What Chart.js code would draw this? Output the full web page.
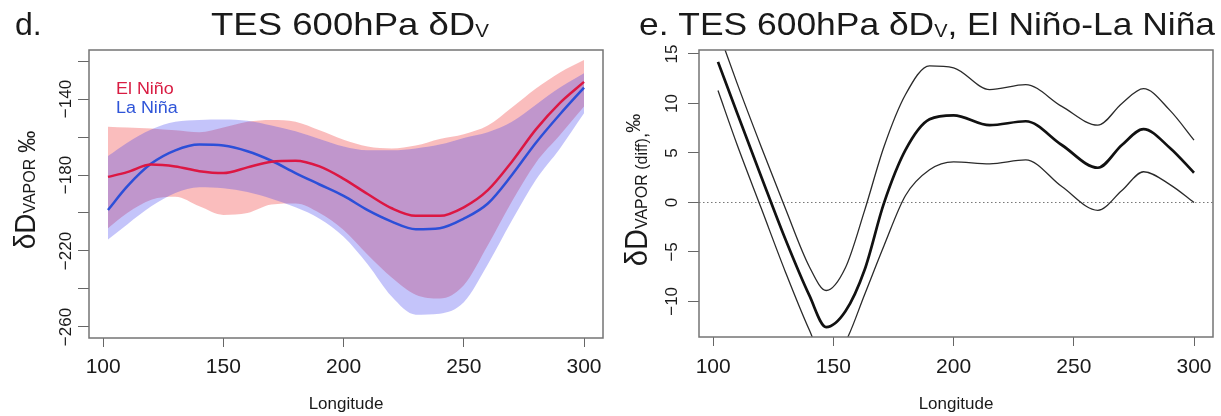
<!DOCTYPE html>
<html><head><meta charset="utf-8">
<script src="https://cdn.jsdelivr.net/npm/chart.js@4.4.1/dist/chart.umd.min.js"></script>
<style>
html,body{margin:0;padding:0;background:#fff;}
#wrap{position:relative;width:1221px;height:416px;overflow:hidden;background:#fff;}
canvas{position:absolute;top:0;}
#c1{left:0;} #c2{left:610px;}
</style></head><body>
<div id="wrap"><canvas id="c1" width="610" height="416"></canvas><canvas id="c2" width="611" height="416"></canvas></div>
<script>
// ---------- data ----------
const xTickValues = [100, 150, 200, 250, 300];

// panel d: TES 600hPa dDv composites
const lonLeft      = [102, 110, 120, 130, 140, 150, 160, 170, 180, 190, 200, 210, 220, 230, 240, 250, 260, 270, 280, 290, 300];
const elNinoMean   = [-181, -178.5, -174.5, -175.5, -178, -179, -176, -173, -172.5, -175.5, -182, -190, -197.5, -201.5, -201.5, -197, -188, -173, -156, -142, -131];
const elNinoUpper  = [-154.6, -155, -155.5, -156.5, -157.5, -155, -152, -151, -152, -156.5, -161.5, -165, -166, -164.5, -161, -158.5, -154, -144.5, -134.5, -126, -119.5];
const elNinoLower  = [-208, -200, -193, -191.5, -196.5, -201, -200, -195.5, -195, -200, -209, -222, -234, -243, -245, -238, -217, -194, -173.5, -159, -144];
const laNinaMean   = [-198.4, -186, -174, -167, -164, -164.5, -167.5, -172.5, -179, -185, -191, -198.5, -204.5, -208.5, -208, -203, -195, -180, -163, -148, -134];
const laNinaUpper  = [-170, -163, -156, -152, -151, -150.8, -151.5, -154, -157, -161, -165, -167, -167, -166, -164, -160.5, -157.5, -152, -143, -134, -126.5];
const laNinaLower  = [-214, -206, -196.5, -189.5, -186.5, -187, -189, -192.5, -197, -203, -212.5, -227, -244, -253.5, -253, -247, -227, -204, -182.5, -166, -147.5];
const leftYTicks   = [-260, -240, -220, -200, -180, -160, -140, -120];
const leftYLabels  = ['\u2212260', '', '\u2212220', '', '\u2212180', '', '\u2212140', ''];

// panel e: El Nino - La Nina difference
const lonRight     = [102, 110, 120, 130, 140, 147, 155, 163, 171, 180, 190, 200, 215, 230, 245, 260, 270, 279, 290, 300];
const diffMean     = [14.2, 9.0, 2.6, -3.7, -9.4, -12.6, -11.0, -6.8, -0.1, 5.3, 8.4, 8.8, 7.8, 8.2, 5.8, 3.5, 5.8, 7.4, 5.5, 3.0];
const diffUpper    = [17.4, 12.0, 5.6, -0.6, -6.5, -8.9, -6.6, -0.8, 5.6, 10.9, 13.8, 13.6, 11.4, 11.9, 9.7, 7.8, 10.0, 11.5, 9.3, 6.3];
const diffLower    = [11.3, 5.8, -0.6, -7.0, -12.9, -16.3, -14.1, -9.3, -4.4, 0.7, 3.3, 4.1, 3.9, 4.3, 1.6, -0.8, 1.2, 3.1, 1.8, 0.0];
const rightYTicks  = [-10, -5, 0, 5, 10, 15];
const rightYLabels = ['\u221210', '\u22125', '0', '5', '10', '15'];

// axis limits
const X_MIN = 94.1, X_MAX = 307.9;
const LEFT_Y_MIN = -265.8, LEFT_Y_MAX = -114.2;
const RIGHT_Y_MIN = -13.6, RIGHT_Y_MAX = 15.4;

// ---------- styles ----------
const FONT = "'Liberation Sans', Arial, Helvetica, sans-serif";
const TEXT = '#1a1a1a';
const AXIS_GRAY = '#666666';
const BOX_GRAY = '#747474';
const RED_LINE = '#dc1743';
const BLUE_LINE = '#2c4fd8';
const PINK_FILL = 'rgba(240,50,50,0.32)';
const BLUE_FILL = 'rgba(60,60,240,0.30)';

const pts = (xs, ys) => xs.map((x, i) => ({ x: x, y: ys[i] }));

function rich(ctx, segs, x, y, o) {
  ctx.save();
  ctx.translate(x, y);
  ctx.scale(o.sx || 1, 1);
  if (o.rot) ctx.rotate(o.rot);
  ctx.textBaseline = o.baseline || 'alphabetic';
  ctx.textAlign = 'left';
  let w = 0;
  segs.forEach(s => { ctx.font = s.size + 'px ' + FONT; s.w = ctx.measureText(s.t).width; w += s.w; });
  if (o.width) { ctx.scale(o.width / w, 1); }
  let cx = o.align === 'center' ? -w / 2 : 0;
  segs.forEach(s => {
    ctx.font = s.size + 'px ' + FONT;
    ctx.fillStyle = s.color || o.color || TEXT;
    ctx.fillText(s.t, cx, s.dy || 0);
    cx += s.w;
  });
  ctx.restore();
}

function decoPlugin(d) {
  return {
    id: 'deco',
    beforeDatasetsDraw(chart) {
      if (!d.zeroLine) return;
      const ctx = chart.ctx, a = chart.chartArea;
      const py = Math.round(chart.scales.y.getPixelForValue(0)) + 0.5;
      ctx.save();
      ctx.strokeStyle = '#777';
      ctx.lineWidth = 1;
      ctx.setLineDash([1.5, 2.5]);
      ctx.beginPath(); ctx.moveTo(a.left, py); ctx.lineTo(a.right, py); ctx.stroke();
      ctx.restore();
    },
    afterDraw(chart) {
      const ctx = chart.ctx, a = chart.chartArea, ys = chart.scales.y;
      ctx.save();
      ctx.strokeStyle = BOX_GRAY; ctx.lineWidth = 1.5;
      ctx.strokeRect(a.left, a.top, a.right - a.left, a.bottom - a.top);
      ctx.restore();
      d.yTicks.forEach((v, i) => {
        const lab = d.yLabels[i];
        if (!lab) return;
        rich(ctx, [{ t: lab, size: 17 }], d.yLabelX, ys.getPixelForValue(v),
             { align: 'center', baseline: 'middle', rot: -Math.PI / 2 });
      });
      d.texts.forEach(t => rich(ctx, t.segs, t.x, t.y, t));
    }
  };
}

function scalesFor(yMin, yMax, yTicks, xAxisH, xPad) {
  return {
    x: {
      type: 'linear', min: X_MIN, max: X_MAX,
      afterBuildTicks: a => { a.ticks = xTickValues.map(v => ({ value: v })); },
      afterFit: a => { a.height = xAxisH; },
      grid: { display: true, drawOnChartArea: false, drawTicks: true, tickLength: 9, color: AXIS_GRAY, lineWidth: 1 },
      border: { display: false },
      ticks: { font: { family: FONT, size: 21 }, color: TEXT, padding: xPad, maxRotation: 0, minRotation: 0, autoSkip: false,
               callback: v => String(v) },
      title: { display: true, text: 'Longitude', font: { family: FONT, size: 17 }, color: TEXT, padding: { top: 0, bottom: 1 } }
    },
    y: {
      type: 'linear', min: yMin, max: yMax,
      afterBuildTicks: a => { a.ticks = yTicks.map(v => ({ value: v })); },
      afterFit: a => { a.width = 89; },
      grid: { display: true, drawOnChartArea: false, drawTicks: true, tickLength: 11, color: AXIS_GRAY, lineWidth: 1 },
      border: { display: false },
      ticks: { display: false }
    }
  };
}

const common = {
  responsive: false, animation: false, devicePixelRatio: 1, events: [],
  plugins: { legend: { display: false }, tooltip: { enabled: false } }
};

const bandStyle = { borderWidth: 0, borderColor: 'rgba(0,0,0,0)', pointRadius: 0, cubicInterpolationMode: 'monotone' };
const lineStyle = { pointRadius: 0, cubicInterpolationMode: 'monotone', fill: false };

// ---------- panel d ----------
new Chart(document.getElementById('c1'), {
  type: 'line',
  data: {
    datasets: [
      Object.assign({ label: 'El Ni\u00f1o', data: pts(lonLeft, elNinoMean), borderColor: RED_LINE, borderWidth: 2.5, order: 1 }, lineStyle),
      Object.assign({ label: 'La Ni\u00f1a', data: pts(lonLeft, laNinaMean), borderColor: BLUE_LINE, borderWidth: 2.5, order: 2 }, lineStyle),
      Object.assign({ label: 'La Ni\u00f1a upper', data: pts(lonLeft, laNinaUpper), fill: 3, backgroundColor: BLUE_FILL, order: 3 }, bandStyle),
      Object.assign({ label: 'La Ni\u00f1a lower', data: pts(lonLeft, laNinaLower), fill: false, order: 4 }, bandStyle),
      Object.assign({ label: 'El Ni\u00f1o upper', data: pts(lonLeft, elNinoUpper), fill: 5, backgroundColor: PINK_FILL, order: 5 }, bandStyle),
      Object.assign({ label: 'El Ni\u00f1o lower', data: pts(lonLeft, elNinoLower), fill: false, order: 6 }, bandStyle)
    ]
  },
  options: Object.assign({}, common, {
    layout: { padding: { left: 0, top: 50, right: 7, bottom: 0 }, autoPadding: false },
    scales: scalesFor(LEFT_Y_MIN, LEFT_Y_MAX, leftYTicks, 78, 8)
  }),
  plugins: [decoPlugin({
    yTicks: leftYTicks, yLabels: leftYLabels, yLabelX: 66,
    texts: [
      { segs: [{ t: 'd.', size: 32 }], x: 15, y: 35, sx: 1.0 },
      { segs: [{ t: 'TES 600hPa \u03b4D', size: 32 }, { t: 'V', size: 18, dy: 2 }], x: 350, y: 35, align: 'center', width: 278 },
      { segs: [{ t: 'El Ni\u00f1o', size: 16, color: '#d81c42' }], x: 116, y: 94, sx: 1.12 },
      { segs: [{ t: 'La Ni\u00f1a', size: 16, color: '#2f55d8' }], x: 116, y: 113, sx: 1.12 },
      { segs: [{ t: '\u03b4D', size: 28 }, { t: 'VAPOR', size: 16 }, { t: ' \u2030', size: 22 }], x: 35, y: 190, align: 'center', rot: -Math.PI / 2, sx: 1.05 }
    ]
  })]
});

// ---------- panel e ----------
new Chart(document.getElementById('c2'), {
  type: 'line',
  data: {
    datasets: [
      Object.assign({ label: 'difference', data: pts(lonRight, diffMean), borderColor: '#111111', borderWidth: 2.7, order: 1 }, lineStyle),
      Object.assign({ label: 'upper', data: pts(lonRight, diffUpper), borderColor: '#2a2a2a', borderWidth: 1.3, order: 2 }, lineStyle),
      Object.assign({ label: 'lower', data: pts(lonRight, diffLower), borderColor: '#2a2a2a', borderWidth: 1.3, order: 3 }, lineStyle)
    ]
  },
  options: Object.assign({}, common, {
    layout: { padding: { left: 0, top: 50, right: 8, bottom: 0 }, autoPadding: false },
    scales: scalesFor(RIGHT_Y_MIN, RIGHT_Y_MAX, rightYTicks, 79, 9)
  }),
  plugins: [decoPlugin({
    zeroLine: true,
    yTicks: rightYTicks, yLabels: rightYLabels, yLabelX: 62,
    texts: [
      { segs: [{ t: 'e. TES 600hPa \u03b4D', size: 32 }, { t: 'V', size: 18, dy: 2 }, { t: ', El Ni\u00f1o-La Ni\u00f1a', size: 32 }], x: 29, y: 35, width: 576 },
      { segs: [{ t: '\u03b4D', size: 29 }, { t: 'VAPOR (diff)', size: 16 }, { t: ',', size: 19 }, { t: '\u2030', size: 19, dy: -7 }], x: 37, y: 190, align: 'center', rot: -Math.PI / 2, sx: 1.05 }
    ]
  })]
});
</script>
</body></html>
